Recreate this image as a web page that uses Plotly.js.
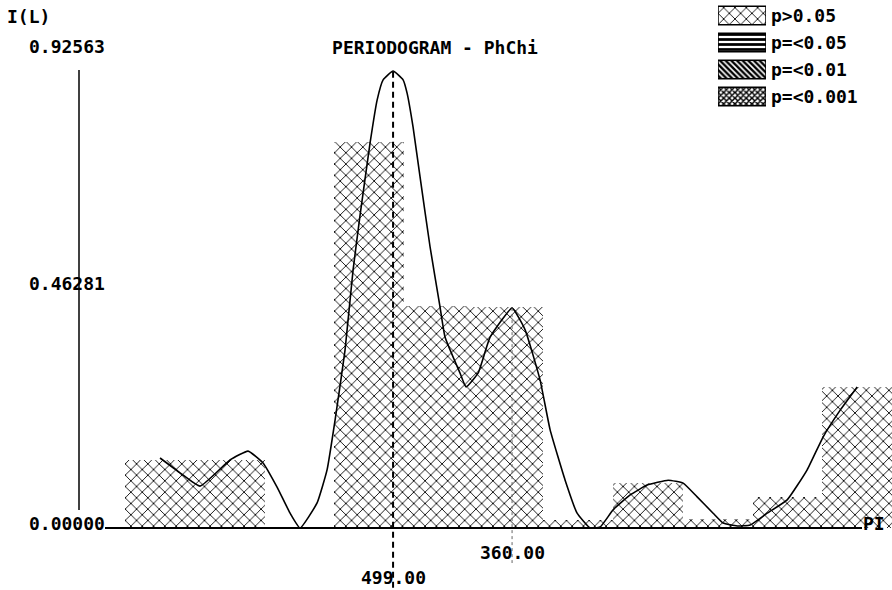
<!DOCTYPE html>
<html>
<head>
<meta charset="utf-8">
<script src="https://cdn.plot.ly/plotly-3.0.1.min.js"></script>
<style>html,body{margin:0;padding:0;background:#fff;}#chart{width:892px;height:590px;}</style>
</head>
<body>
<div id="chart"></div>
<script>
// ---------------- data ----------------
const harmonic = [1, 2, 3, 4, 5, 6, 7, 8, 9, 10, 11];
const periodogram = [0.138, 0.138, 0.0, 0.783, 0.450, 0.448, 0.016, 0.091, 0.018, 0.063, 0.286];
const significance = ['p>0.05','p>0.05','p>0.05','p>0.05','p>0.05','p>0.05','p>0.05','p>0.05','p>0.05','p>0.05','p>0.05'];

const curveK = [1.000, 1.287, 1.574, 2.004, 2.263, 2.478, 2.679, 2.866, 3.009, 3.253, 3.396, 3.511, 3.654, 3.769,
  3.870, 4.013, 4.114, 4.200, 4.343, 4.487, 4.544, 4.630, 4.730, 4.874, 5.017, 5.089, 5.304, 5.390, 5.562, 5.735, 6.050,
  6.237, 6.452, 6.596, 6.811, 6.983, 7.170, 7.313, 7.500, 7.744, 7.988, 8.289, 8.504, 8.705, 8.934, 9.078,
  9.279, 9.465, 9.709, 9.996, 10.283, 10.513, 10.757, 11.001];
const curveV = [0.142, 0.112, 0.085, 0.138, 0.156, 0.132, 0.083, 0.030, 0.000, 0.051, 0.118, 0.219, 0.361, 0.523,
  0.635, 0.781, 0.868, 0.909, 0.927, 0.909, 0.882, 0.813, 0.712, 0.570, 0.448, 0.387, 0.314, 0.286, 0.314, 0.387, 0.446,
  0.402, 0.300, 0.199, 0.097, 0.030, 0.000, 0.002, 0.037, 0.067, 0.087, 0.097, 0.091, 0.063, 0.030, 0.010,
  0.004, 0.006, 0.030, 0.057, 0.118, 0.185, 0.239, 0.286];

const peakK = [4.343, 6.050];
const peakV = [0.92563, 0.446];
const peakLabel = ['499.00', '360.00'];

const yTickLabels = ['0.92563', '0.46281', '0.00000'];
const yAxisLabel = 'I(L)';
const xAxisEndLabel = 'PI';
const chartTitle = 'PERIODOGRAM - PhChi';
const legendLabels = ['p>0.05', 'p=<0.05', 'p=<0.01', 'p=<0.001'];

// ---------------- styles / layout ----------------
const W = 892, H = 590, ML = 80;
const PW = W - ML;
const X_RANGE = [-0.148, 11.5];
const Y_RANGE = [-0.12576, 1.07099];
const FONT = {family: 'DejaVu Sans Mono, Liberation Mono, monospace', size: 18, color: '#000', weight: 'bold'};
const px2paperX = px => (px - ML) / PW;
const px2paperY = py => (H - py) / H;
const px2v = py => Y_RANGE[1] - py * (Y_RANGE[1] - Y_RANGE[0]) / H;

const patternStyle = {
  'p>0.05':   {shape: 'x',  size: 8, solidity: 0.22, fgcolor: '#111'},
  'p=<0.05':  {shape: '-',  size: 5, solidity: 0.55, fgcolor: '#000'},
  'p=<0.01':  {shape: '\\', size: 4, solidity: 0.6,  fgcolor: '#000'},
  'p=<0.001': {shape: 'x',  size: 4, solidity: 0.6,  fgcolor: '#000'}
};
const esc = s => s.replace(/&/g, '&amp;').replace(/</g, '&lt;').replace(/>/g, '&gt;');

const traces = [];
legendLabels.forEach(lbl => {
  const xs = [], ys = [];
  harmonic.forEach((k, i) => { if (significance[i] === lbl) { xs.push(k); ys.push(periodogram[i]); } });
  if (!xs.length) return;
  const p = patternStyle[lbl];
  traces.push({
    type: 'bar', x: xs, y: ys, width: 1, showlegend: false, hoverinfo: 'skip',
    marker: {color: '#fff', line: {width: 0},
      pattern: {shape: p.shape, size: p.size, solidity: p.solidity, fgcolor: p.fgcolor, bgcolor: '#fff', fillmode: 'replace'}}
  });
});

traces.push({
  type: 'scatter', mode: 'lines', x: curveK, y: curveV, showlegend: false, hoverinfo: 'skip',
  line: {color: '#000', width: 1.6, shape: 'spline', smoothing: 0.4}
});

// legend drawn as small horizontal bars on their own axes
traces.push({
  type: 'bar', orientation: 'h', xaxis: 'x2', yaxis: 'y2', showlegend: false, hoverinfo: 'skip',
  y: legendLabels, x: legendLabels.map(() => 1), width: 0.68,
  marker: {color: '#fff', line: {color: '#000', width: 1.5},
    pattern: {
      shape: legendLabels.map(l => patternStyle[l].shape),
      size: legendLabels.map(l => patternStyle[l].size),
      solidity: legendLabels.map(l => patternStyle[l].solidity),
      fgcolor: legendLabels.map(l => patternStyle[l].fgcolor),
      bgcolor: '#fff', fillmode: 'replace'}}
});

const peakLineStyle = [
  {color: '#000', width: 2, dash: '6px,4px'},
  {color: '#666', width: 1, dash: 'dot'}
];
const peakLineEndPx = [590, 563];
const peakLabelPx = [577, 552];
const yTickPx = [47, 283, 523];

const shapes = [
  // y axis
  {type: 'line', xref: 'paper', yref: 'paper', x0: px2paperX(79), x1: px2paperX(79), y0: px2paperY(70), y1: px2paperY(510),
   line: {color: '#000', width: 1.5}},
  // baseline
  {type: 'line', xref: 'paper', yref: 'y', x0: px2paperX(105), x1: px2paperX(862), y0: 0, y1: 0,
   line: {color: '#000', width: 2}}
];
peakK.forEach((k, i) => {
  shapes.push({type: 'line', xref: 'x', yref: 'y', x0: k, x1: k, y0: peakV[i], y1: px2v(peakLineEndPx[i]),
    line: peakLineStyle[i]});
});

const annotations = [];
annotations.push({text: yAxisLabel, xref: 'paper', yref: 'paper', x: px2paperX(5), y: px2paperY(17),
  xanchor: 'left', yanchor: 'middle', showarrow: false, font: FONT});
yTickLabels.forEach((t, i) => annotations.push({text: t, xref: 'paper', yref: 'paper', x: px2paperX(27),
  y: px2paperY(yTickPx[i]), xanchor: 'left', yanchor: 'middle', showarrow: false, font: FONT}));
annotations.push({text: xAxisEndLabel, xref: 'paper', yref: 'paper', x: px2paperX(861), y: px2paperY(523),
  xanchor: 'left', yanchor: 'middle', showarrow: false, font: FONT});
peakLabel.forEach((t, i) => annotations.push({text: t, xref: 'x', yref: 'paper', x: peakK[i],
  y: px2paperY(peakLabelPx[i]), xanchor: 'center', yanchor: 'middle', showarrow: false, font: FONT,
  bgcolor: 'rgba(0,0,0,0)'}));

const layout = {
  width: W, height: H,
  margin: {l: ML, r: 0, t: 0, b: 0, pad: 0},
  paper_bgcolor: '#fff', plot_bgcolor: 'rgba(0,0,0,0)',
  showlegend: false,
  font: FONT,
  title: {text: chartTitle, font: FONT, xref: 'container', yref: 'container',
    x: 435 / W, y: 1 - 48 / H, xanchor: 'center', yanchor: 'middle'},
  xaxis: {range: X_RANGE, visible: false, fixedrange: true},
  yaxis: {range: Y_RANGE, visible: false, fixedrange: true},
  xaxis2: {domain: [px2paperX(718), px2paperX(766)], range: [0, 1], visible: false, anchor: 'y2'},
  yaxis2: {domain: [px2paperY(110), px2paperY(2)], anchor: 'x2', type: 'category', autorange: 'reversed',
    side: 'right', showgrid: false, zeroline: false, showline: false, ticks: '',
    tickvals: legendLabels, ticktext: legendLabels.map(esc), tickfont: FONT, ticklabelstandoff: 4},
  shapes: shapes,
  annotations: annotations,
  barmode: 'overlay', bargap: 0
};

Plotly.newPlot('chart', traces, layout, {staticPlot: true, displayModeBar: false});
</script>
</body>
</html>
